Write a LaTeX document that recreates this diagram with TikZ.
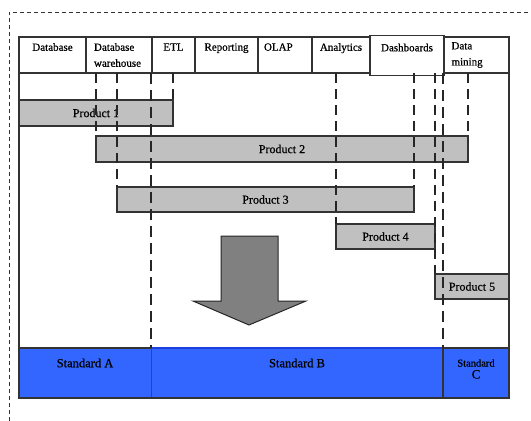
\documentclass[tikz,border=0pt]{standalone}
\usepackage{fontspec}
\setmainfont{Liberation Serif}[FakeBold=0.6]
\definecolor{prodgray}{HTML}{C0C0C0}
\definecolor{arrowgray}{HTML}{808080}
\definecolor{stdblue}{HTML}{3366FF}
\definecolor{stdedge}{HTML}{1E3FE0}
\begin{document}
\begin{tikzpicture}[x=1pt,y=-1pt,
  font=\fontsize{11}{16}\selectfont,
  box/.style={draw=black!80, line width=1.1pt, inner sep=0pt, outer sep=0pt},
  hdr/.style={box, fill=white, minimum height=36pt, anchor=north west, align=center},
  hdrl/.style={hdr, align=left, text width=#1},
  prod/.style={box, fill=prodgray, anchor=north west, font=\fontsize{12}{14}\selectfont},
  std/.style={fill=stdblue, minimum height=50pt, anchor=north west, inner sep=0pt, outer sep=0pt},
  stdtext/.style={font=\fontsize{12.5}{12}\selectfont, align=center, inner sep=0pt},
  guide/.style={draw=black!85, line width=1.6pt, dash pattern=on 10pt off 6pt},
  border/.style={draw=black!85, line width=2.2pt, dash pattern=on 11pt off 6pt},
  frame/.style={draw=black!80, line width=0.9pt, dash pattern=on 4pt off 3pt}]
\useasboundingbox (0,0) rectangle (531,421);

% outer dashed frame (top and left edges)
\coordinate (fa) at (9,12);
\coordinate (fb) at (531,12);
\coordinate (fc) at (9,421);
\draw[frame] (fc) -- (fa) -- (fb);

% main body below the header row
\node[box, minimum width=490pt, minimum height=325pt, anchor=north west] (body) at (19,73) {};

% header row
\node[hdr, minimum width=67pt] (db)   at (19,37)  {Database\\\mbox{}};
\node[hdrl=50pt, minimum width=66pt] (dw)   at (86,37)  {Database\\warehouse};
\node[hdr, minimum width=43pt] (etl)  at (152,37) {ETL\\\mbox{}};
\node[hdr, minimum width=63pt] (rep)  at (195,37) {Reporting\\\mbox{}};
\node[hdrl=42pt, minimum width=54pt] (olap) at (258,37) {OLAP\\\mbox{}};
\node[hdr, minimum width=58pt] (ana)  at (312,37) {Analytics\\\mbox{}};
\node[hdr, minimum width=74pt, minimum height=40pt] (dsh) at (370,35.5) {Dashboards\\\mbox{}};
\node[hdrl=50pt, minimum width=65pt] (dm)   at (444,37) {Data\\mining};

% products
\node[prod, minimum width=154pt, minimum height=26pt] (p1) at (19,100)  {Product 1};
\node[prod, minimum width=372pt, minimum height=26pt] (p2) at (96,136)  {Product 2};
\node[prod, minimum width=297pt, minimum height=25pt] (p3) at (117,187) {Product 3};
\node[prod, minimum width=99pt,  minimum height=25pt] (p4) at (336,224) {Product 4};
\node[prod, minimum width=74pt,  minimum height=25pt] (p5) at (435,274) {Product 5};

% standards band
\node[std, minimum width=132pt] (sa) at (19,348)  {};
\node[std, minimum width=292pt] (sb) at (151,348) {};
\node[std, minimum width=66pt]  (sc) at (443,348) {};
\draw[stdedge, line width=0.8pt] (sa.north east) -- (sa.south east);
\draw[stdedge, line width=1.2pt] (sb.north west) -- (sb.north east);
\draw[black!80, line width=1.1pt] (sa.north west) -- (sa.north east);
\draw[black!80, line width=1.1pt] (sa.north west) -- (sa.south west) -- (sc.south east) -- (sc.north east);
\draw[black!80, line width=1.1pt] (sc.north west) rectangle (sc.south east);
\node[stdtext] (sat) at ([yshift=-15pt]sa.north) {Standard A};
\node[stdtext] (sbt) at ([yshift=-15pt]sb.north) {Standard B};
\node[stdtext, font=\fontsize{10.5}{12}\selectfont] (sct) at ([yshift=-21pt]sc.north) {Standard\\\fontsize{13}{12}\selectfont C};

% product edges projected up to the header row
\draw[guide] (p2.north west |- body.north) -- (p2.north west);
\draw[guide] (p3.north west |- body.north) -- (p3.north west);
\draw[guide] (p1.north east |- body.north) -- (p1.north east);
\draw[guide] (p4.north west |- body.north) -- (p4.north west);
\draw[guide] (p3.north east |- body.north) -- (p3.north east);
\draw[guide] (p5.north west |- body.north) -- (p5.north west);
\draw[guide] (p2.north east |- body.north) -- (p2.north east);

% standard boundaries
\draw[border] (sa.north east |- body.north) -- (sa.north east);
\draw[border] (sc.north west |- body.north) -- (sc.north west);

% big downward arrow
\draw[fill=arrowgray, draw=black!85, line width=1pt, line join=miter]
  (221,236) -- (278,236) -- (278,301) -- (306,301) -- (249,325)
  -- (193,301) -- (221,301) -- cycle;
\end{tikzpicture}
\end{document}
